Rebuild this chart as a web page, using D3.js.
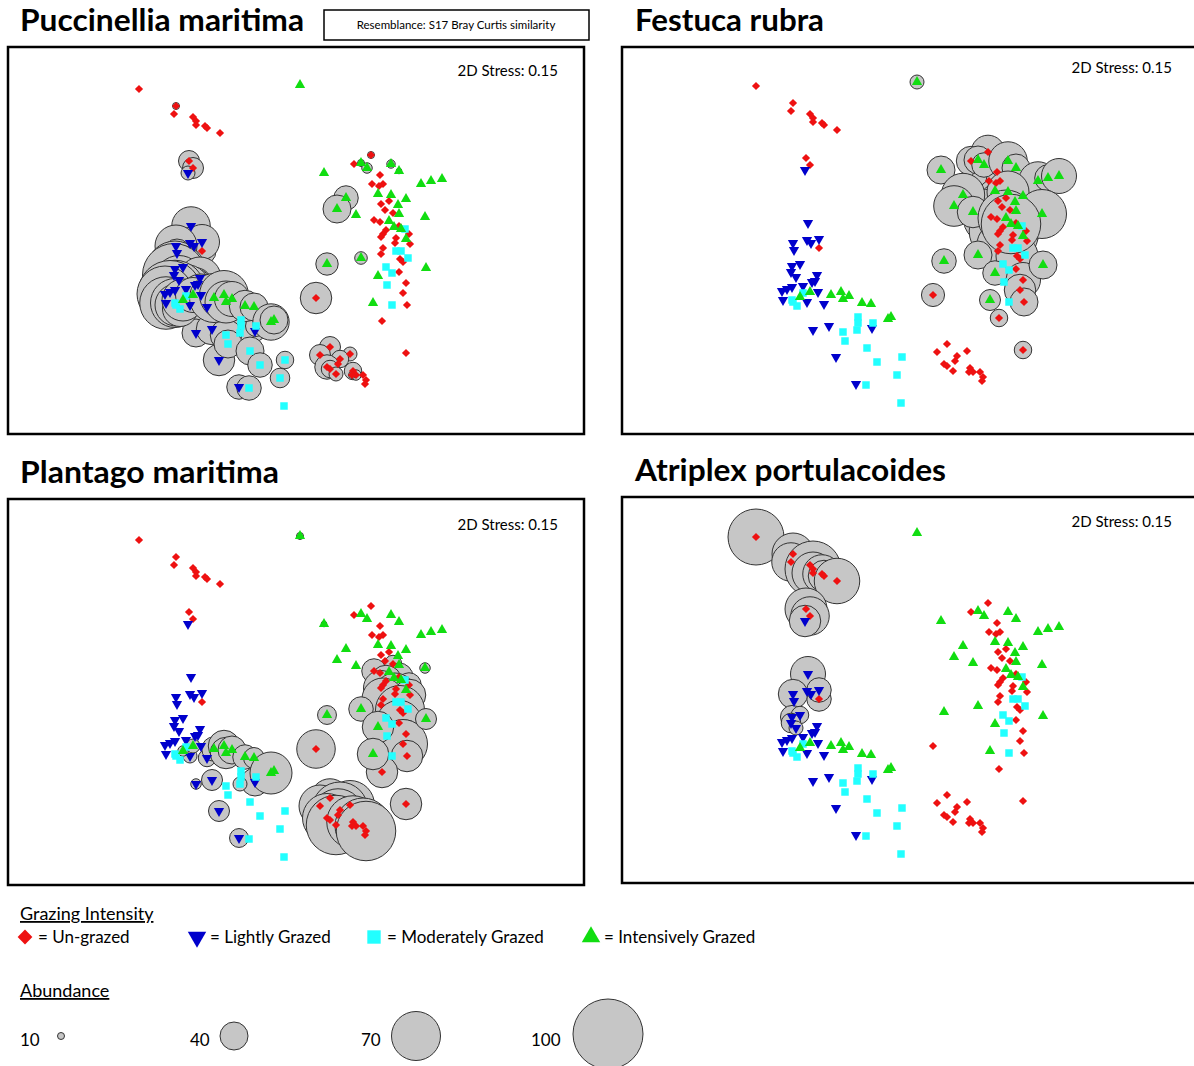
<!DOCTYPE html>
<html lang="en">
<head>
<meta charset="UTF-8">
<title>nMDS bubble plots - grazing intensity</title>
<style>
    body { margin: 0; background: #fff; }
    svg { font-family: Lato, "Open Sans", sans-serif; }
    .title { font-size: 30px; font-weight: bold; }
    .stress { font-size: 15px; }
    .legend { font-size: 17px; }
    .heading { font-size: 18px; text-decoration: underline; }
</style>
<script src="https://d3js.org/d3.v7.min.js"></script>
</head>
<body>
<div id="chart"></div>
<script>
    // species shown in the four panels
    var species = ["Puccinellia maritima", "Festuca rubra", "Plantago maritima", "Atriplex portulacoides"];
    var groups = ["Un-grazed", "Lightly Grazed", "Moderately Grazed", "Intensively Grazed"];
    var groupColors = ["#ee1111", "#0000cc", "#22ffff", "#11dd11"];
    var stress = [0.15, 0.15, 0.15, 0.15];
    var abundanceKey = [10, 40, 70, 100];

    // rows: MDS1, MDS2, then abundance of Puccinellia, Festuca, Plantago, Atriplex
    var unGrazed = [
        [-1.44, 1.54, 0, 0, 0, 80], [-1.07, 1.37, 10, 0, 0, 60], [-1.09, 1.29, 0, 0, 0, 55],
        [-0.90, 1.26, 0, 0, 0, 50], [-0.87, 1.22, 0, 0, 0, 80], [-0.87, 1.18, 0, 0, 0, 60],
        [-0.78, 1.17, 0, 0, 0, 55], [-0.76, 1.15, 0, 0, 0, 45], [-0.63, 1.10, 0, 0, 0, 65],
        [-0.94, 0.82, 30, 0, 0, 60], [-0.90, 0.75, 30, 0, 0, 55], [-0.81, -0.08, 40, 0, 0, 35],
        [0.88, 0.88, 10, 48, 0, 0], [0.71, 0.79, 0, 42, 0, 0], [0.97, 0.68, 0, 55, 0, 0],
        [0.89, 0.59, 0, 50, 0, 0], [1.00, 0.59, 0, 40, 0, 0], [0.96, 0.57, 0, 0, 0, 0],
        [0.98, 0.39, 0, 65, 0, 0], [1.06, 0.42, 0, 0, 0, 0], [1.02, 0.33, 0, 72, 0, 0],
        [1.10, 0.30, 0, 55, 25, 0], [0.91, 0.23, 0, 80, 35, 0], [0.97, 0.21, 0, 0, 0, 0],
        [1.16, 0.17, 0, 78, 40, 0], [1.03, 0.13, 0, 0, 45, 0], [1.00, 0.09, 0, 88, 0, 0],
        [0.98, 0.06, 0, 0, 50, 0], [1.26, 0.09, 0, 0, 35, 0], [1.13, 0.05, 0, 72, 0, 0],
        [1.12, 0.00, 0, 0, 60, 0], [1.27, -0.01, 0, 0, 45, 0], [1.00, -0.05, 0, 66, 60, 0],
        [0.98, -0.11, 0, 0, 0, 0], [1.17, -0.16, 0, 60, 70, 0], [1.20, -0.19, 0, 0, 0, 0],
        [1.16, -0.29, 0, 0, 65, 0], [1.23, -0.40, 0, 50, 40, 0], [0.33, -0.55, 45, 33, 55, 0],
        [1.20, -0.50, 0, 45, 70, 0], [1.24, -0.62, 0, 40, 45, 0], [0.99, -0.78, 0, 25, 45, 0],
        [0.47, -1.04, 30, 0, 55, 0], [0.37, -1.12, 30, 0, 60, 0], [0.67, -1.11, 20, 0, 70, 0],
        [1.23, -1.10, 0, 25, 45, 0], [0.57, -1.16, 25, 0, 80, 0], [0.55, -1.21, 0, 0, 75, 0],
        [0.44, -1.24, 35, 0, 70, 0], [0.47, -1.26, 25, 0, 0, 0], [0.53, -1.31, 20, 0, 85, 0],
        [0.70, -1.28, 25, 0, 75, 0], [0.73, -1.32, 15, 0, 0, 0], [0.80, -1.32, 0, 0, 80, 0],
        [0.83, -1.37, 0, 0, 85, 0], [0.82, -1.41, 0, 0, 0, 0], [0.69, -1.32, 10, 0, 0, 0]
    ];

    var lightlyGrazed = [
        [-0.95, 0.70, 20, 0, 0, 45], [-0.92, 0.17, 55, 0, 0, 50], [-0.93, 0.00, 45, 0, 0, 0],
        [-0.89, -0.03, 40, 0, 0, 0], [-0.81, 0.01, 50, 0, 0, 35], [-1.07, -0.03, 60, 0, 0, 42],
        [-1.06, -0.10, 40, 0, 0, 0], [-1.08, -0.26, 80, 0, 0, 33], [-1.00, -0.24, 60, 0, 0, 25],
        [-1.09, -0.32, 90, 0, 0, 28], [-1.04, -0.37, 70, 0, 0, 20], [-0.83, -0.35, 60, 0, 0, 0],
        [-0.88, -0.42, 50, 0, 0, 0], [-0.85, -0.41, 40, 0, 0, 0], [-0.97, -0.46, 70, 0, 0, 0],
        [-1.08, -0.47, 85, 0, 0, 0], [-1.13, -0.49, 90, 0, 0, 0], [-1.18, -0.51, 80, 0, 0, 0],
        [-0.82, -0.52, 60, 0, 0, 0], [-1.17, -0.60, 75, 0, 0, 0], [-0.93, -0.62, 60, 0, 20, 0],
        [-0.76, -0.64, 50, 0, 25, 0], [-0.28, -0.88, 30, 0, 40, 0], [-0.87, -0.90, 40, 0, 15, 0],
        [-0.71, -0.86, 45, 0, 30, 0], [-0.64, -1.17, 45, 0, 30, 0], [-0.44, -1.44, 35, 0, 27, 0]
    ];

    var moderatelyGrazed = [
        [-1.08, -0.60, 70, 0, 0, 0], [-1.07, -0.62, 60, 0, 0, 0], [-1.03, -0.66, 50, 0, 0, 0],
        [-0.97, -0.53, 40, 0, 0, 0], [-0.42, -0.77, 40, 0, 0, 0], [-0.42, -0.83, 35, 0, 0, 0],
        [-0.43, -0.90, 40, 0, 20, 0], [-0.27, -0.83, 30, 0, 0, 0], [-0.57, -0.92, 45, 0, 0, 0],
        [-0.55, -1.01, 40, 0, 0, 0], [-0.33, -1.08, 40, 0, 0, 0], [-0.23, -1.22, 35, 0, 0, 0],
        [0.02, -1.17, 25, 0, 0, 0], [-0.03, -1.35, 28, 0, 0, 0], [-0.34, -1.45, 35, 0, 0, 0],
        [0.01, -1.63, 0, 0, 0, 0], [1.22, 0.14, 0, 0, 0, 0], [1.13, -0.08, 0, 0, 0, 0],
        [1.18, -0.08, 0, 0, 0, 0], [1.25, -0.15, 0, 0, 0, 0], [1.03, -0.24, 0, 0, 0, 0],
        [1.09, -0.30, 0, 0, 0, 0], [1.04, -0.42, 0, 0, 0, 0], [1.09, -0.62, 0, 0, 0, 0]
    ];

    var intensivelyGrazed = [
        [-1.00, -0.57, 60, 0, 15, 0], [-0.90, -0.52, 50, 0, 20, 0], [-0.69, -0.55, 70, 0, 35, 0],
        [-0.59, -0.52, 70, 0, 45, 0], [-0.57, -0.59, 60, 0, 45, 0], [-0.51, -0.56, 50, 0, 40, 0],
        [-0.38, -0.63, 45, 0, 35, 0], [-0.29, -0.64, 40, 0, 30, 0], [-0.12, -0.79, 52, 0, 60, 0],
        [-0.09, -0.77, 40, 0, 0, 0], [0.17, 1.58, 0, 20, 10, 0], [0.78, 0.80, 10, 40, 0, 0],
        [0.84, 0.75, 15, 35, 0, 0], [1.08, 0.79, 12, 55, 0, 0], [1.16, 0.72, 8, 40, 0, 0],
        [0.41, 0.70, 0, 40, 8, 0], [1.38, 0.59, 0, 55, 0, 0], [1.48, 0.62, 0, 38, 0, 0],
        [1.59, 0.64, 0, 50, 0, 0], [0.95, 0.49, 0, 0, 0, 0], [1.08, 0.48, 0, 60, 0, 0],
        [1.23, 0.44, 0, 0, 0, 0], [0.63, 0.45, 35, 62, 0, 0], [0.54, 0.34, 40, 58, 0, 0],
        [1.15, 0.38, 0, 0, 0, 0], [0.73, 0.28, 0, 45, 0, 0], [1.16, 0.29, 0, 0, 0, 0],
        [1.06, 0.22, 0, 80, 0, 0], [1.42, 0.26, 0, 70, 15, 0], [1.11, 0.16, 0, 85, 0, 0],
        [1.18, 0.14, 0, 0, 0, 0], [1.23, 0.04, 0, 0, 0, 0], [0.78, -0.15, 18, 40, 35, 0],
        [0.44, -0.21, 32, 35, 27, 0], [1.43, -0.25, 0, 40, 30, 0], [0.95, -0.33, 0, 35, 45, 0],
        [0.90, -0.60, 0, 30, 45, 0]
    ];

    var groupData = [unGrazed, lightlyGrazed, moderatelyGrazed, intensivelyGrazed];

    var width = 1194, height = 1066;

    // panel frames: box, centre of the ordination, title position and width
    var panels = [
        {box: [8, 47, 576, 387], cx: 283, cy: 243, tx: 20, ty: 31, tw: 284, sx: 558, sy: 76},
        {box: [622, 47, 576, 387], cx: 900, cy: 240, tx: 635, ty: 31, tw: 189, sx: 1172, sy: 73},
        {box: [8, 499, 576, 386], cx: 283, cy: 694, tx: 20, ty: 483, tw: 259, sx: 558, sy: 530},
        {box: [622, 497, 576, 386], cx: 900, cy: 691, tx: 635, ty: 481, tw: 311, sx: 1172, sy: 527}
    ];

    var rScale = d3.scaleLinear().domain([0, 100]).range([0, 35]);

    var symbolFor = [
        {type: d3.symbolSquare, size: 34, rot: 45},
        {type: d3.symbolTriangle, size: 46, rot: 180},
        {type: d3.symbolSquare, size: 56, rot: 0},
        {type: d3.symbolTriangle, size: 46, rot: 0}
    ];

    var svg = d3.select("#chart").append("svg")
        .attr("width", width)
        .attr("height", height);

    // flatten all samples with their group index
    var samples = [];
    groupData.forEach(function(rows, g) {
        rows.forEach(function(r) {
            samples.push({group: g, x: r[0], y: r[1], ab: r.slice(2)});
        });
    });

    panels.forEach(function(p, i) {
        var g = svg.append("g");
        var xScale = d3.scaleLinear().domain([-3, 3]).range([p.cx - 300, p.cx + 300]);
        var yScale = d3.scaleLinear().domain([-2, 2]).range([p.cy + 200, p.cy - 200]);

        g.append("rect")
            .attr("x", p.box[0]).attr("y", p.box[1])
            .attr("width", p.box[2]).attr("height", p.box[3])
            .attr("fill", "#fff")
            .attr("stroke", "#000")
            .attr("stroke-width", 2.5);

        // bubbles first, symbols on top
        g.selectAll("circle.bubble")
            .data(samples.filter(function(d) { return d.ab[i] > 0; }))
            .enter().append("circle")
            .attr("class", "bubble")
            .attr("cx", function(d) { return xScale(d.x); })
            .attr("cy", function(d) { return yScale(d.y); })
            .attr("r", function(d) { return rScale(d.ab[i]); })
            .attr("fill", "#c6c6c6")
            .attr("stroke", "#333")
            .attr("stroke-width", 1);

        g.selectAll("path.pt")
            .data(samples)
            .enter().append("path")
            .attr("class", "pt")
            .attr("d", function(d) {
                var s = symbolFor[d.group];
                return d3.symbol().type(s.type).size(s.size)();
            })
            .attr("transform", function(d) {
                return "translate(" + xScale(d.x) + "," + yScale(d.y) + ") rotate(" + symbolFor[d.group].rot + ")";
            })
            .attr("fill", function(d) { return groupColors[d.group]; });

        svg.append("text")
            .attr("class", "title")
            .attr("x", p.tx).attr("y", p.ty)
            .attr("textLength", p.tw)
            .attr("lengthAdjust", "spacingAndGlyphs")
            .text(species[i]);

        svg.append("text")
            .attr("class", "stress")
            .attr("x", p.sx).attr("y", p.sy)
            .attr("text-anchor", "end")
            .text("2D Stress: " + stress[i].toFixed(2));
    });

    // resemblance box
    svg.append("rect")
        .attr("x", 324).attr("y", 10)
        .attr("width", 265).attr("height", 30)
        .attr("fill", "#fff")
        .attr("stroke", "#000")
        .attr("stroke-width", 1.5);
    svg.append("text")
        .attr("x", 456).attr("y", 29)
        .attr("text-anchor", "middle")
        .style("font-size", "11.5px")
        .text("Resemblance: S17 Bray Curtis similarity");

    // grazing legend
    svg.append("text").attr("class", "heading").attr("x", 20).attr("y", 920).text("Grazing Intensity");
    var legX = [25, 197, 374, 591];
    groups.forEach(function(name, k) {
        var s = symbolFor[k];
        svg.append("path")
            .attr("d", d3.symbol().type(s.type).size(s.size * 3.2)())
            .attr("transform", "translate(" + legX[k] + "," + 937 + ") rotate(" + s.rot + ")")
            .attr("fill", groupColors[k]);
        svg.append("text")
            .attr("class", "legend")
            .attr("x", legX[k] + 13).attr("y", 943)
            .text("=  " + name);
    });

    // abundance legend
    svg.append("text").attr("class", "heading").attr("x", 20).attr("y", 997).text("Abundance");
    var keyX = [20, 190, 361, 531];
    var keyC = [61, 234, 416, 608];
    abundanceKey.forEach(function(v, k) {
        svg.append("text")
            .attr("class", "legend")
            .attr("x", keyX[k]).attr("y", 1046)
            .text(v);
        svg.append("circle")
            .attr("cx", keyC[k]).attr("cy", 1036 - (k === 3 ? 2 : 0))
            .attr("r", rScale(v))
            .attr("fill", "#c6c6c6")
            .attr("stroke", "#333")
            .attr("stroke-width", 1);
    });
</script>
</body>
</html>
